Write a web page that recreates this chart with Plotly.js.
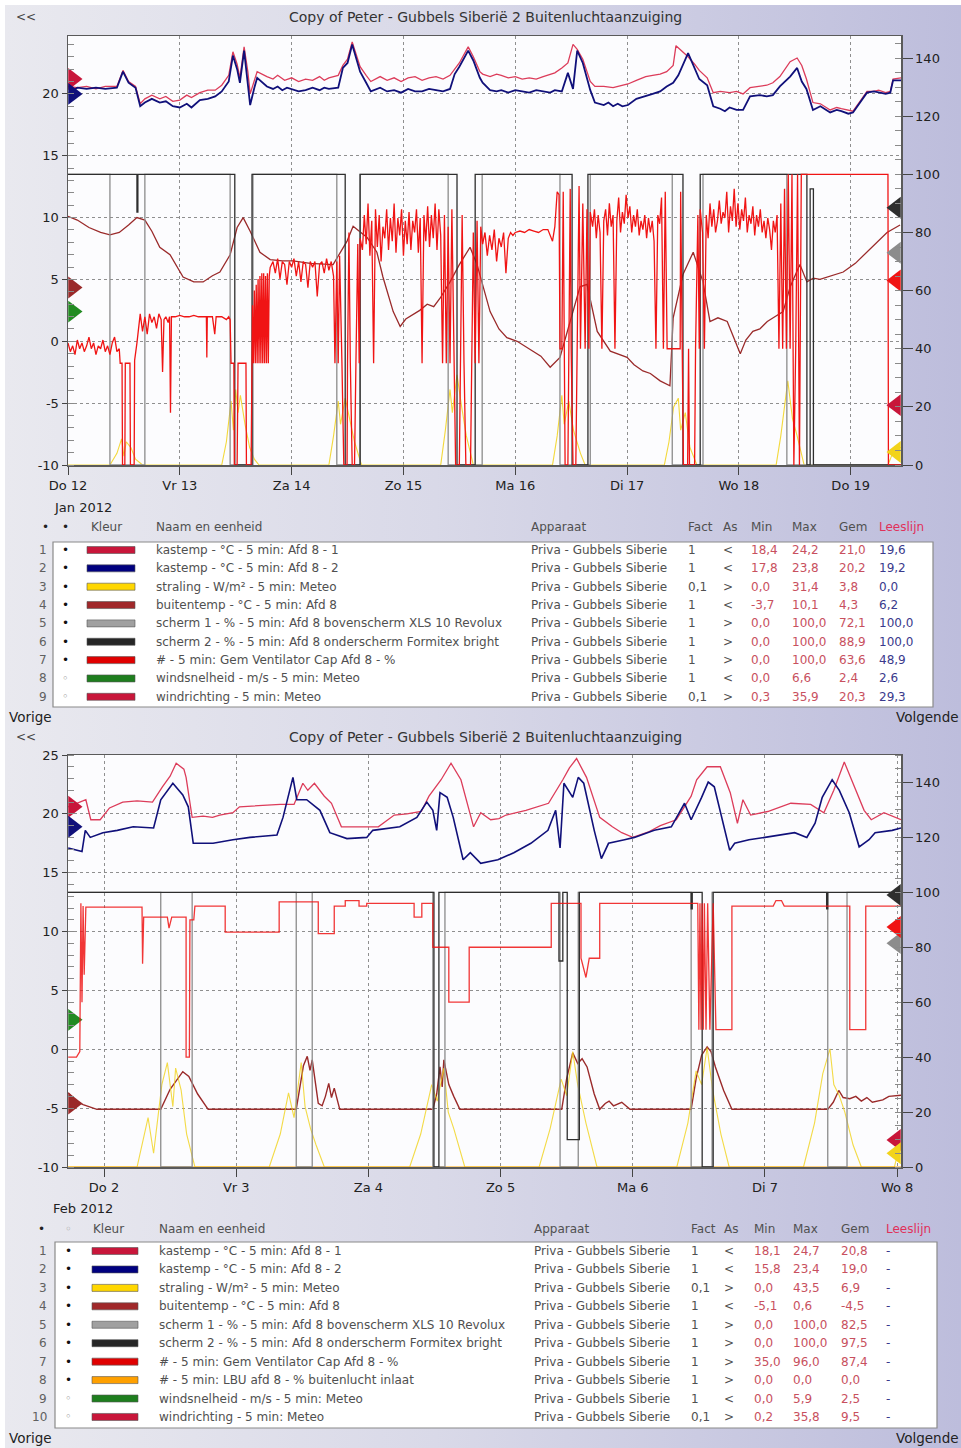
<!DOCTYPE html>
<html><head><meta charset="utf-8">
<script src="https://cdn.plot.ly/plotly-3.0.1.min.js"></script>
<style>
html,body{margin:0;padding:0;background:#fff;}
#bg{position:absolute;left:5px;top:5px;width:956px;height:1443px;background:linear-gradient(to right,#e9e9ef 0%,#d9d9e8 45%,#bdbddc 100%);}
#chart{position:absolute;left:0;top:0;width:961px;height:1448px;}
</style></head><body><div id="bg"></div><div id="chart"></div>
<script>
// ---------------- DATA ----------------
const TITLE = 'Copy of Peter - Gubbels Siberië 2 Buitenluchtaanzuiging';
const janDayLabels = ['Do 12','Vr 13','Za 14','Zo 15','Ma 16','Di 17','Wo 18','Do 19'];
const febDayLabels = ['Do 2','Vr 3','Za 4','Zo 5','Ma 6','Di 7','Wo 8'];
const janMonth = 'Jan 2012';
const febMonth = 'Feb 2012';
const leftTickVals = [-10,-5,0,5,10,15,20,25];
const leftTickText = ['-10','-5','0','5','10','15','20','25'];

// Panel 1 (hours since Do 12 00:00)
const jan_kastemp1 = [[0,20.6],[2,20.5],[4,20.6],[6,20.4],[8,20.6],[10.5,20.6],[11.8,21.9],[13,21.0],[14.5,20.6],[15.5,19.2],[16.5,19.6],[18,19.9],[19.7,19.6],[21,19.8],[22.5,19.4],[24,19.5],[25.5,19.9],[26.5,19.7],[28.3,20.1],[30,20.3],[31.6,20.3],[33,20.7],[34.5,21.5],[35.4,23.4],[36.3,22.4],[36.9,21.3],[37.8,23.8],[38.6,21.8],[39.1,20.0],[40.0,21.0],[40.6,21.8],[42.7,21.4],[44,21.2],[45,21.5],[46.5,21.1],[48,21.3],[49.5,21.0],[51,21.2],[52.5,21.1],[54,21.4],[55,21.1],[56,21.3],[58,21.5],[59,22.3],[60,22.8],[61,24.2],[62,23.0],[62.7,22.2],[64,21.5],[65,21.0],[67,21.4],[68.5,21.1],[70,21.3],[71.5,21.0],[73,21.3],[74.5,21.4],[76,21.1],[77.5,21.3],[79,21.4],[80.5,21.2],[82,21.5],[83,22.0],[84,22.5],[85.9,23.8],[87,23.0],[88.4,21.8],[89,21.6],[90.6,21.4],[92,21.6],[93,21.5],[94.5,21.3],[96,21.4],[97.5,21.2],[99,21.3],[100.5,21.2],[102,21.4],[103.5,21.6],[104.5,21.7],[106.0,22.1],[107.3,22.5],[108.4,24.0],[109.3,23.6],[110.5,22.8],[112.1,21.0],[113.1,20.6],[115,20.6],[117,20.5],[119,20.7],[120.2,20.8],[122,21.1],[124,21.4],[125.5,21.5],[127.1,21.6],[128.5,21.8],[129.9,22.3],[130.5,23.9],[131.4,23.6],[133.1,23.0],[134.5,22.4],[135.5,21.9],[137.2,21.3],[138.5,20.1],[140,20.2],[142,20.1],[143.5,20.2],[144.9,20.0],[146.4,20.5],[148.5,20.6],[150,20.7],[151.3,20.9],[152.8,21.4],[155,22.6],[156.5,22.9],[157.5,22.3],[158.5,21.2],[159.9,19.3],[161.5,19.2],[163.6,18.7],[165,18.9],[166,18.8],[167.5,18.7],[168.5,18.6],[170,19.4],[171.5,20.2],[173,20.2],[174,20.3],[175.5,20.1],[176.5,20.2],[177.1,21.2],[178.8,21.3]];
const jan_kastemp2 = [[0,20.0],[2,20.5],[4,20.4],[6,20.5],[8,20.4],[10.5,20.5],[11.8,21.8],[13,20.9],[14.5,20.5],[15.5,19.0],[16.5,19.3],[18,19.6],[19.7,19.3],[21,19.4],[22.5,19.0],[24,18.9],[25.5,19.2],[26.5,18.9],[28.3,19.5],[30,19.6],[31.6,19.8],[33,20.2],[34.5,21.0],[35.4,23.1],[36.3,22.0],[36.9,20.9],[37.8,23.5],[38.6,21.0],[39.1,19.1],[40.0,20.5],[40.6,21.3],[42.7,20.6],[44,20.4],[45,20.6],[46,20.3],[47,20.5],[48,20.4],[49.5,20.2],[51,20.3],[52.5,20.5],[54,20.3],[55,20.5],[56,20.4],[58,20.5],[59,22.1],[60,22.5],[61,24.0],[62,22.8],[62.7,21.8],[64,20.9],[65,20.2],[67,20.5],[68.5,20.2],[70,20.3],[71.5,20.1],[73,20.4],[74.5,20.2],[76,20.2],[77.5,20.4],[79,20.3],[80.5,20.2],[82,20.4],[83,21.6],[84,22.2],[85.9,23.5],[87,22.7],[88.4,21.3],[89,20.9],[90.6,20.3],[92,20.2],[93,20.3],[94.5,20.1],[96,20.3],[97.5,20.2],[99,20.1],[100.5,20.3],[102,20.2],[103.5,20.1],[104.5,20.3],[106.0,20.2],[107.3,21.7],[108.4,20.4],[109.3,23.5],[110.5,22.5],[112.1,20.3],[113.1,19.3],[115,19.1],[116,19.3],[117,19.0],[118,19.2],[119,19.0],[120.2,19.1],[122,19.6],[124,19.8],[125.5,20.0],[127.1,20.2],[128.5,20.6],[129.9,20.9],[131,21.5],[133.1,23.3],[134.5,22.0],[135.5,21.2],[137.2,20.7],[138.5,19.0],[140,18.8],[141,18.6],[142,18.9],[143.5,18.7],[144.9,18.7],[146.4,19.8],[148.5,19.9],[150,19.8],[151.3,19.9],[152.8,20.6],[155,21.4],[156.5,22.1],[157.5,21.0],[158.5,20.4],[159.9,18.7],[161.5,19.0],[163.6,18.5],[165,18.7],[166,18.6],[167.5,18.4],[168.5,18.5],[170,19.3],[171.5,20.1],[173,20.2],[174,20.1],[175.5,20.0],[176.5,20.1],[177.1,21.1],[178.8,21.1]];
const jan_buitentemp = [[0,10.1],[2,9.8],[4.5,9.2],[7,8.8],[9,8.6],[11,8.8],[13,9.4],[14.8,10.0],[16.5,9.8],[18,8.9],[19.7,7.6],[21.9,7.0],[24.7,5.2],[27,4.8],[29,4.8],[31,5.3],[32.6,5.6],[34.8,7.0],[36.3,9.2],[37.6,10.0],[39.1,8.9],[41.2,7.2],[43.4,6.6],[46,6.5],[48.3,6.5],[52,6.3],[56.9,6.2],[59.9,8.1],[61.2,9.3],[64.2,8.4],[66.3,7.2],[67.6,5.2],[69.8,2.4],[71.3,1.2],[72.5,1.8],[74.1,2.2],[75.5,2.5],[77.1,3.0],[78.5,2.8],[79.9,3.5],[82,4.8],[84,6.2],[86.3,7.6],[87.8,6.2],[90.6,2.4],[92.5,1.0],[94.2,0.3],[96.4,0.0],[98,-0.4],[99.8,-0.8],[101.5,-1.2],[103.5,-2.1],[105.6,-1.3],[107.8,1.6],[109.9,4.4],[111.4,4.6],[113.6,0.8],[116.4,-0.8],[118,-1.0],[120,-1.3],[121.5,-1.9],[123.4,-2.4],[125,-2.6],[127.1,-3.2],[129.2,-3.6],[129.9,1.9],[132,5.4],[134.2,7.2],[136.3,4.8],[137.8,1.6],[139.5,1.9],[141.5,1.6],[143,0.2],[144.3,-1.0],[145.5,0.1],[147,0.8],[148.5,1.0],[150.1,1.6],[151.8,2.0],[153.5,2.4],[155,4.4],[157.1,6.2],[158.6,4.8],[160,5.1],[161.4,5.0],[164,5.3],[166.4,5.6],[169,6.3],[171.5,7.2],[173.5,8.0],[175.8,8.8],[178.6,9.4]];
const jan_straling = [[0,0],[9,0],[10.5,4],[11.5,9],[12,3],[12.5,8],[13.5,6],[14.5,2],[16,0],[33,0],[34,8],[35,22],[35.5,12],[36,26],[36.5,18],[37,24],[38,14],[39,6],[40,2],[41,0],[56,0],[57,10],[58,22],[58.5,14],[59.5,23],[60.5,16],[61.5,8],[63,0],[80,0],[81,12],[82,26],[82.5,18],[83.5,31],[84.5,20],[85.5,10],[87,0],[104,0],[105,10],[106,24],[106.5,14],[107.5,22],[108.5,12],[110,4],[111,0],[128,0],[129,8],[130,20],[131,23],[131.5,12],[132.5,18],[133.5,6],[135,0],[152,0],[153,10],[154,24],[154.5,29],[155.5,16],[156.5,10],[158,0],[176,0],[177,4],[178,6],[178.8,6]];
const jan_scherm1 = [[0,100],[9.0,100],[9.0,0],[16.5,0],[16.5,100],[34.8,100],[34.8,0],[39.7,0],[39.7,100],[57.7,100],[57.7,0],[62.7,0],[62.7,100],[81.6,100],[81.6,0],[88.9,0],[88.9,100],[105.6,100],[105.6,0],[112.1,0],[112.1,100],[129.7,100],[129.7,0],[136.3,0],[136.3,100],[154.3,100],[154.3,0],[178.8,0]];
const jan_scherm2 = [[0,100],[14.8,100],[14.8,87],[15.0,87],[15.0,100],[35.8,100],[35.8,0],[39.5,0],[39.5,100],[59.5,100],[59.5,0],[62.7,0],[62.7,100],[83.5,100],[83.5,0],[87.4,0],[87.4,100],[108.2,100],[108.2,0],[111.6,0],[111.6,100],[132.0,100],[132.0,0],[135.7,0],[135.7,100],[158.6,100],[158.6,0],[159.3,0],[159.3,95],[160,95],[160,0],[178.8,0]];
const jan_ventilator = [[0,42],[0.5,39],[1,41],[1.5,38],[2,43],[2.5,40],[3,42],[3.5,39],[4,41],[4.5,44],[5,40],[5.5,42],[6,38],[6.5,41],[7,40],[7.5,43],[8,39],[8.5,41],[9,38],[9.5,42],[10,44],[10.5,39],[11,40],[11.2,35],[11.6,35],[11.7,0],[12.2,0],[12.3,35],[13.3,35],[13.4,0],[14.2,0],[14.3,36],[14.8,42],[15.2,48],[15.5,52],[16,46],[16.5,51],[17,45],[17.5,52],[18,49],[18.5,51],[19,47],[19.5,52],[20,50],[20.3,32],[20.6,50],[21,51],[21.5,49],[21.8,51],[22,18],[22.2,51],[23,51],[24,51.5],[25,51],[26,51],[27,51.5],[28,51],[29,51],[29.7,51],[29.8,37],[29.9,51],[31,51],[31.5,45],[31.8,51],[33,51],[34,50],[34.5,51],[34.8,50],[35.0,35],[35.6,35],[35.7,0],[36.3,0],[36.5,35],[38.2,35],[38.3,0],[39.3,0],[39.4,35],[39.6,55],[39.8,35],[40.0,60],[40.2,35],[40.4,62],[40.6,35],[40.8,64],[41.0,35],[41.2,65],[41.4,35],[41.6,66],[41.8,35],[42.0,66],[42.2,35],[42.4,65],[42.6,35],[42.8,66],[43.0,35],[43.2,65],[43.4,68],[44,70],[44.5,66],[45,71],[45.5,64],[46,70],[46.5,69],[47,62],[47.5,70],[48,68],[48.5,71],[49,65],[49.5,70],[50,63],[50.5,70],[51,69],[51.5,61],[52,70],[52.5,68],[53,70],[53.5,58],[54,69],[54.5,70],[55,66],[55.5,71],[56,67],[56.5,70],[57,65],[57.3,35],[57.7,70],[58,35],[58.3,72],[58.8,35],[59.2,0],[59.9,0],[60,35],[60.3,80],[60.6,35],[61,0],[61.5,0],[61.8,35],[62.2,76],[62.5,35],[62.7,78],[63.2,74],[63.6,86],[64,76],[64.4,90],[64.8,72],[65.2,84],[65.6,35],[66,88],[66.4,75],[66.8,86],[67.2,70],[67.6,82],[68,78],[68.4,88],[68.8,74],[69.2,85],[69.6,77],[70,90],[70.4,73],[70.8,85],[71.2,79],[71.6,88],[72,72],[72.4,84],[72.8,76],[73.2,87],[73.6,74],[74,84],[74.4,80],[74.8,88],[75.2,73],[75.6,85],[76,35],[76.4,86],[76.8,77],[77.2,89],[77.6,75],[78,86],[78.4,78],[78.8,90],[79.2,74],[79.6,88],[80,79],[80.4,35],[80.8,86],[81.2,35],[81.6,82],[82,35],[82.4,88],[82.8,35],[83.2,0],[84,0],[84.2,35],[84.6,86],[85,35],[85.4,0],[86.4,0],[86.6,35],[87,80],[87.4,35],[87.8,84],[88.2,35],[88.6,82],[89,76],[89.5,80],[90,72],[90.5,79],[91,74],[91.5,81],[92,70],[92.5,78],[93,75],[93.5,80],[94,66],[94.5,78],[95,80],[95.5,79],[96,80],[97,80.5],[98,80],[99,81],[100,80.5],[101,80],[102,81],[103,81],[104,77],[104.5,82],[105,94],[105.4,93],[105.6,40],[106,40],[106.3,94],[106.5,40],[106.7,0],[107.3,0],[107.5,40],[107.8,95],[108,40],[108.4,0],[109,0],[109.3,40],[109.7,96],[110,40],[110.5,90],[111,40],[111.4,88],[111.8,40],[112.1,87],[112.6,82],[113,88],[113.4,78],[113.8,86],[114.2,80],[114.6,40],[115,84],[115.4,88],[115.8,79],[116.2,90],[116.6,82],[117,86],[117.4,40],[117.8,84],[118.2,92],[118.6,80],[119,87],[119.4,83],[119.8,93],[120.2,85],[120.6,89],[121,80],[121.4,86],[121.8,82],[122.2,88],[122.6,79],[123,84],[123.4,81],[123.8,86],[124.2,78],[124.6,85],[125,80],[125.4,84],[125.8,77],[126.2,40],[126.6,86],[127,83],[127.4,92],[127.8,40],[128.2,94],[128.6,40],[131.4,40],[131.5,94],[131.8,40],[132.1,0],[133,0],[133.2,40],[133.4,0],[134.5,0],[134.7,40],[135.2,86],[135.5,40],[135.7,88],[136.2,80],[136.6,40],[137,86],[137.4,78],[137.8,90],[138.2,82],[138.6,88],[139,80],[139.4,84],[139.8,91],[140.2,83],[140.6,87],[141,85],[141.4,94],[141.8,80],[142.2,89],[142.6,84],[143,95],[143.4,82],[143.8,90],[144.2,81],[144.6,88],[145,84],[145.4,92],[145.8,80],[146.2,86],[146.6,83],[147,89],[147.4,79],[147.8,86],[148.2,82],[148.6,88],[149,80],[149.4,84],[149.8,78],[150.2,85],[150.6,81],[151,74],[151.4,84],[151.8,80],[152.2,86],[152.6,40],[153,90],[153.4,40],[153.8,95],[154.2,40],[154.6,100],[155,40],[155.4,100],[155.8,0],[156.2,40],[156.6,100],[157,0],[157.4,100],[158,100],[165,100],[176,100],[176.1,0],[178.8,0]];
// values at which the reading markers sit on the axes
const jan_leftMarks  = [21.2, 20.0, 4.35, 2.4];        // kastemp1, kastemp2, buitentemp, windsnelheid
const jan_rightMarks = [88.5, 73, 63.5, 20.6, 4.5];     // scherm2, scherm1, ventilator, windrichting, straling

// Panel 2 (hours since Do 2 00:00)
const feb_kastemp1 = [[-6.5,20.6],[-5,20.9],[-3.3,21.2],[-2.4,19.5],[-0.7,19.5],[1,20.5],[3.4,21.0],[6,21.1],[8.8,21.0],[10.6,22.3],[12,23.2],[13.1,24.3],[14.5,23.8],[14.9,23.1],[16,19.7],[18,19.8],[19.7,19.7],[21,19.9],[23.4,20.1],[24.6,20.6],[28,20.7],[32,20.8],[34.5,20.8],[36.1,22.6],[37,22.0],[38.2,22.6],[40,21.5],[41.3,20.9],[43.1,18.9],[46,18.9],[49.8,18.9],[52.7,19.9],[55,20.0],[57.6,20.2],[59,21.5],[61.2,22.9],[63,24.3],[64.8,22.9],[67.1,18.9],[68.4,20.1],[70.2,19.5],[71.7,19.6],[73,19.9],[76.6,20.3],[80.7,20.9],[83.3,22.9],[84.5,23.9],[85.8,24.7],[87.6,23.1],[90,19.7],[92.3,18.9],[94,18.4],[96,18.0],[99,18.5],[101,19.0],[103.9,19.5],[106.6,21.5],[107.6,22.9],[109.5,24.0],[111.9,24.0],[113.7,21.8],[115,19.2],[116,21.2],[117.4,19.9],[120.5,20.2],[124.7,20.9],[128.3,20.8],[130.7,20.1],[132.5,22.0],[134.4,24.4],[136.2,22.3],[138,20.3],[139.3,19.5],[141.6,20.1],[144.7,19.5]];
const feb_kastemp2 = [[-6.5,17.1],[-4.9,16.9],[-4.0,16.8],[-3.4,18.6],[-2.5,18.0],[-0.2,18.4],[2.4,18.6],[5.3,18.9],[9,18.8],[10.3,21.2],[12.5,22.6],[14.3,21.6],[15.3,20.6],[16.2,17.5],[19.8,17.5],[23.4,17.8],[26.5,18.0],[31.4,18.2],[32.5,19.7],[34.3,23.1],[35.0,21.2],[36.8,21.2],[39.2,20.3],[41,18.4],[44.1,17.9],[47.7,18.0],[48.8,18.6],[53.7,18.9],[56.8,19.7],[58.6,21.0],[59.7,20.3],[60.4,18.6],[61,21.8],[62.3,21.4],[63.4,19.7],[65.2,16.1],[66.5,16.7],[68.4,15.8],[71.5,16.1],[74.4,16.7],[77.5,17.5],[80.6,18.6],[82,20.3],[82.8,17.1],[83.5,22.6],[85.1,21.4],[86.1,23.1],[87.1,22.6],[89,18.6],[90.3,16.2],[91.6,17.5],[94.5,17.8],[96.3,18.0],[99.9,18.6],[103,18.9],[105.4,20.9],[106.6,19.5],[108.5,21.4],[109.7,22.7],[110.8,22.3],[112.1,19.7],[113.6,16.9],[114.5,17.5],[117.1,17.8],[120,18.0],[123.1,18.2],[125.4,18.4],[127.6,18.0],[129.1,19.2],[130.4,21.4],[132.2,22.9],[133.5,22.0],[135.3,20.1],[137.1,17.2],[138.9,17.8],[140,18.4],[143.1,18.6],[144.7,18.8]];
const feb_buitentemp = [[-6.5,-3.7],[-5,-4.4],[-3.8,-4.7],[-1.3,-5.1],[10.3,-5.1],[12,-3.4],[14.3,-1.9],[15.4,-2.3],[17,-3.8],[18.9,-5.1],[34.9,-5.1],[35.5,-3.2],[36.2,-1.4],[36.9,-0.6],[37.4,-1.8],[37.8,-0.9],[38.4,-3.0],[38.9,-4.6],[39.6,-4.8],[40.2,-4.0],[40.8,-2.9],[41.3,-4.1],[41.8,-3.3],[42.8,-5.1],[59.7,-5.1],[60.4,-3.8],[61.0,-1.5],[61.4,-3.2],[61.7,-0.9],[62.6,-3.0],[63.5,-4.0],[64.6,-5.1],[83.1,-5.1],[84,-2.5],[85.1,-0.3],[86,-1.2],[86.8,-0.8],[87.7,-1.5],[89,-3.8],[90.0,-5.1],[91.0,-4.6],[91.7,-4.4],[92.5,-4.8],[94,-4.5],[95.5,-5.1],[106.6,-5.1],[107.5,-2.5],[108.5,-0.5],[109.5,0.2],[110.2,-0.2],[111,-1.5],[112.5,-3.5],[114.0,-5.1],[131.4,-5.1],[132.4,-4.5],[133.4,-3.5],[134.2,-4.1],[135.4,-4.2],[136.5,-4.0],[137.5,-4.4],[138.5,-4.1],[139.5,-4.5],[141.4,-4.3],[142.5,-4.0],[144.7,-3.9]];
const feb_straling = [[-6.5,0],[6,0],[8,18],[9,5],[10.5,30],[11.5,38],[12.5,22],[13,36],[14,28],[15,12],[16.5,0],[30,0],[32,12],[33.5,27],[34.5,18],[35.8,38],[36.5,22],[37.5,14],[38.5,8],[40,0],[55.5,0],[57.5,12],[59.5,30],[60.5,24],[61.7,36],[62.5,20],[63.5,14],[65.5,0],[79,0],[81,14],[83,32],[84,26],[85.1,42],[86,30],[87.5,16],[89.5,0],[104,0],[106,16],[107.5,35],[108.5,30],[109.5,43.5],[110.5,28],[112,12],[113.5,0],[127,0],[129,16],[130.5,34],[131.8,43],[132.5,30],[133.5,26],[134.5,20],[136,8],[137.5,0],[143.5,0],[144,4],[144.7,8]];
const feb_scherm1 = [[-6.54,100],[10.3,100],[10.3,0],[16.0,0],[16.0,100],[34.9,100],[34.9,0],[37.8,0],[37.8,100],[59.7,100],[59.7,0],[61.9,0],[61.9,100],[82.8,100],[82.8,0],[86.1,0],[86.1,100],[106.6,100],[106.6,0],[110.4,0],[110.4,100],[131.4,100],[131.4,0],[134.9,0],[134.9,100],[144.7,100]];
const feb_scherm2 = [[-6.54,100],[59.9,100],[59.9,0],[60.8,0],[60.8,100],[82.6,100],[82.6,75],[83.3,75],[83.3,100],[84.1,100],[84.1,10],[86.3,10],[86.3,100],[106.6,100],[106.6,94],[106.8,94],[106.8,100],[108.6,100],[108.6,0],[110.6,0],[110.6,100],[131.2,100],[131.2,94],[131.4,94],[131.4,100],[144.7,100]];
const feb_ventilator = [[-6.5,40],[-5,40],[-4.4,42],[-4.2,96],[-4.0,60],[-3.8,95],[-3.6,70],[-3.3,94.6],[6.9,94.6],[6.9,91],[7.0,74],[7.2,91],[11.5,91],[11.8,87],[12.3,91],[14.9,91],[14.9,40],[15.5,40],[15.6,90],[16.3,90],[16.5,95],[22.0,95],[22.0,85.5],[31.8,85.5],[31.8,96.5],[38.9,96.5],[38.9,85],[41.8,85],[41.8,95],[43.8,95],[43.8,97],[46.3,97],[46.3,95],[47.7,95],[47.7,96],[56.3,96],[56.3,91],[57.7,91],[57.7,96],[59.7,96],[59.7,80],[62.6,80],[62.6,60],[66.3,60],[66.3,80],[81.2,80],[81.2,96],[86.6,96],[86.6,76],[87.5,69],[88.1,76],[90.0,76],[90.0,96],[107.8,96],[108.0,50],[108.2,96],[108.4,50],[108.6,96],[108.8,50],[109.0,96],[109.3,50],[109.6,96],[110.0,50],[110.6,96],[111.1,50],[114.0,50],[114.0,95],[121.5,95],[122,97],[123,97],[123.5,95],[135.4,95],[135.4,50],[138.3,50],[138.3,95],[144.7,95]];
const feb_lbu = [[-6.54,0],[144.7,0]];
const feb_leftMarks  = [20.6, 18.9, -4.6, 2.5];        // kastemp1, kastemp2, buitentemp, windsnelheid
const feb_rightMarks = [99, 81.5, 87.4, 9.8, 5];        // scherm2, scherm1, ventilator, windrichting, straling

// Tables
const jan_names = ['kastemp - °C - 5 min: Afd 8 - 1','kastemp - °C - 5 min: Afd 8 - 2','straling - W/m² - 5 min: Meteo','buitentemp - °C - 5 min: Afd 8','scherm 1 - % - 5 min: Afd 8 bovenscherm XLS 10 Revolux','scherm 2 - % - 5 min: Afd 8 onderscherm Formitex bright','# - 5 min: Gem Ventilator Cap Afd 8 - %','windsnelheid - m/s - 5 min: Meteo','windrichting - 5 min: Meteo'];
const jan_app = 'Priva - Gubbels Siberie';
const jan_fact = ['1','1','0,1','1','1','1','1','1','0,1'];
const jan_as = ['<','<','>','<','>','>','>','<','>'];
const jan_min = ['18,4','17,8','0,0','-3,7','0,0','0,0','0,0','0,0','0,3'];
const jan_max = ['24,2','23,8','31,4','10,1','100,0','100,0','100,0','6,6','35,9'];
const jan_gem = ['21,0','20,2','3,8','4,3','72,1','88,9','63,6','2,4','20,3'];
const jan_lees = ['19,6','19,2','0,0','6,2','100,0','100,0','48,9','2,6','29,3'];
const jan_shown = [1,1,1,1,1,1,1,0,0];

const feb_names = ['kastemp - °C - 5 min: Afd 8 - 1','kastemp - °C - 5 min: Afd 8 - 2','straling - W/m² - 5 min: Meteo','buitentemp - °C - 5 min: Afd 8','scherm 1 - % - 5 min: Afd 8 bovenscherm XLS 10 Revolux','scherm 2 - % - 5 min: Afd 8 onderscherm Formitex bright','# - 5 min: Gem Ventilator Cap Afd 8 - %','# - 5 min: LBU afd 8 - % buitenlucht inlaat','windsnelheid - m/s - 5 min: Meteo','windrichting - 5 min: Meteo'];
const feb_app = 'Priva - Gubbels Siberie';
const feb_fact = ['1','1','0,1','1','1','1','1','1','1','0,1'];
const feb_as = ['<','<','>','<','>','>','>','>','<','>'];
const feb_min = ['18,1','15,8','0,0','-5,1','0,0','0,0','35,0','0,0','0,0','0,2'];
const feb_max = ['24,7','23,4','43,5','0,6','100,0','100,0','96,0','0,0','5,9','35,8'];
const feb_gem = ['20,8','19,0','6,9','-4,5','82,5','97,5','87,4','0,0','2,5','9,5'];
const feb_lees = ['-','-','-','-','-','-','-','-','-','-'];
const feb_shown = [1,1,1,1,1,1,1,1,0,0];

const headers = ['Kleur','Naam en eenheid','Apparaat','Fact','As','Min','Max','Gem','Leeslijn'];

// ---------------- STYLE ----------------
const C = {kas1:'#dc3c5a', kas2:'#10107a', stra:'#f2d31a', buit:'#9a2a2a', sch1:'#8c8c8c', sch2:'#2e2e2e', vent:'#f01414', wind:'#228b22', wdir:'#c8163a', lbu:'#ffa500'};
const janSw = ['#c8163a','#00007f','#ffd700','#a0282a','#a0a0a0','#262626','#e00000','#1e7e1e','#c8163a'];
const febSw = ['#c8163a','#00007f','#ffd700','#a0282a','#a0a0a0','#262626','#e00000','#ffa000','#1e7e1e','#c8163a'];
const W = 961, H = 1448;
const px2x = p => p / W, py2y = p => 1 - p / H;
const esc = s => s.replace(/&/g,'&amp;').replace(/</g,'&lt;').replace(/>/g,'&gt;');

const traces = [];
function addLine(pairs, xa, ya, color, width, op) {
  traces.push({type:'scatter', mode:'lines', x:pairs.map(p=>p[0]), y:pairs.map(p=>p[1]),
    xaxis:xa, yaxis:ya, line:{color:color, width:width}, opacity:op||1, hoverinfo:'skip', showlegend:false});
}
function addMarks(vals, colors, xpos, xa, ya, sym) {
  traces.push({type:'scatter', mode:'markers', x:vals.map(()=>xpos), y:vals, xaxis:xa, yaxis:ya,
    marker:{symbol:sym, size:19, color:colors, line:{width:0}}, cliponaxis:false, hoverinfo:'skip', showlegend:false});
}

// Panel 1
addLine(jan_buitentemp,'x','y',C.buit,1.3);
addLine(jan_kastemp1,'x','y',C.kas1,1.3);
addLine(jan_kastemp2,'x','y',C.kas2,1.8);
addMarks(jan_leftMarks,[C.wdir,C.kas2,C.buit,C.wind],178.8*5/833,'x','y','triangle-right');
addLine(jan_straling,'x','y2',C.stra,1.1,0.85);
addLine(jan_scherm1,'x','y2',C.sch1,1.3);
addLine(jan_scherm2,'x','y2',C.sch2,1.3);
addLine(jan_ventilator,'x','y2',C.vent,1.3);
addMarks(jan_rightMarks,[C.sch2,C.sch1,C.vent,C.wdir,C.stra],178.8-178.8*5/833,'x','y2','triangle-left');

// Panel 2
addLine(feb_buitentemp,'x2','y3',C.buit,1.4);
addLine(feb_kastemp1,'x2','y3',C.kas1,1.3);
addLine(feb_kastemp2,'x2','y3',C.kas2,1.6);
addMarks(feb_leftMarks,[C.wdir,C.kas2,C.buit,C.wind],-6.54+151.24*5/833,'x2','y3','triangle-right');
addLine(feb_straling,'x2','y4',C.stra,1.1,0.8);
addLine(feb_lbu,'x2','y4',C.lbu,1);
addLine(feb_scherm1,'x2','y4',C.sch1,1.3);
addLine(feb_scherm2,'x2','y4',C.sch2,1.3);
addLine(feb_ventilator,'x2','y4',C.vent,1.3,0.85);
addMarks(feb_rightMarks,[C.sch2,C.sch1,C.vent,C.wdir,C.stra],144.7-151.24*5/833,'x2','y4','triangle-left');

// ---------------- LAYOUT ----------------
const tickFont = {family:'DejaVu Sans, sans-serif', size:13, color:'#222'};
const gridStyle = {showgrid:true, gridcolor:'#8f8f8f', gridwidth:1, griddash:'3px,3px'};
function xAx(domain, range, anchor, labels) {
  return Object.assign({domain:domain, range:range, anchor:anchor, tickvals:labels.map((_,i)=>i*24), ticktext:labels,
    ticks:'outside', ticklen:8, tickcolor:'#444', tickfont:tickFont, showline:true, linecolor:'#5a5a5a', linewidth:1.5, mirror:true, zeroline:false}, gridStyle);
}
function yLeft(domain, range, anchor) {
  return Object.assign({domain:domain, range:range, anchor:anchor, tickvals:leftTickVals, ticktext:leftTickText, ticks:'outside', ticklen:5, tickcolor:'#444',
    tickfont:tickFont, minor:{dtick:1, tick0:0, ticks:'inside', ticklen:6, tickcolor:'#8a8a8a', showgrid:false},
    showline:true, linecolor:'#5a5a5a', linewidth:1.5, zeroline:false}, gridStyle);
}
function yRight(over, range, anchor) {
  return {overlaying:over, side:'right', anchor:anchor, range:range, tick0:0, dtick:20, ticks:'outside', ticklen:10, tickcolor:'#444',
    tickfont:tickFont, minor:{dtick:5, tick0:0, ticks:'inside', ticklen:6, tickcolor:'#8a8a8a', showgrid:false},
    showgrid:false, showline:true, linecolor:'#5a5a5a', linewidth:1.5, zeroline:false};
}

const XD = [px2x(68), px2x(901)];
const layout = {
  width:W, height:H, margin:{l:0,r:0,t:0,b:0}, paper_bgcolor:'rgba(0,0,0,0)', plot_bgcolor:'#fcfcfe', showlegend:false,
  xaxis: xAx(XD,[0,178.8],'y',janDayLabels),
  yaxis: yLeft([py2y(465),py2y(36)],[-10,24.68],'x'),
  yaxis2: yRight('y',[0,147.6],'x'),
  xaxis2: xAx(XD,[-6.54,144.7],'y3',febDayLabels),
  yaxis3: yLeft([py2y(1167),py2y(755)],[-10,25],'x2'),
  yaxis4: yRight('y3',[0,150],'x2'),
  annotations:[], shapes:[]
};
const ann = layout.annotations, shp = layout.shapes;
const tblFont = 'DejaVu Sans, sans-serif';
function txt(x, y, text, o) {
  o = o || {};
  ann.push({xref:'paper', yref:'paper', x:px2x(x), y:py2y(y), text:text, showarrow:false,
    xanchor:o.anchor||'left', yanchor:'middle', font:{family:o.family||tblFont, size:o.size||12, color:o.color||'#505050'}});
}
function rect(x0,y0,x1,y1,fill,line,lw) {
  shp.push({type:'rect', xref:'paper', yref:'paper', x0:px2x(x0), x1:px2x(x1), y0:py2y(y1), y1:py2y(y0), fillcolor:fill, line:{color:line, width:lw||1}, layer:'above'});
}

const uiFont = 'DejaVu Sans, sans-serif';
// headers / navigation
[[17,717,janMonth,507],[737,1438,febMonth,1208]].forEach(([ty,ny,month,my])=>{
  txt(485,ty,TITLE,{anchor:'center',family:uiFont,size:14,color:'#333'});
  txt(14,ty,'&lt;&lt;',{family:uiFont,size:12,color:'#444'});
  txt(7,ny,'Vorige',{family:uiFont,size:13.5,color:'#222'});
  txt(961,ny,'Volgende',{anchor:'right',family:uiFont,size:13.5,color:'#222'});
  txt(83,my,month,{anchor:'center',family:uiFont,size:13,color:'#222'});
});

function table(cfg) {
  const n = cfg.names.length;
  rect(cfg.box[0],cfg.box[1],cfg.box[2],cfg.box[3],'#ffffff','#8a8a8a',1.2);
  const c = cfg.cols, hy = cfg.hy;
  txt(c.b1,hy,'•',{anchor:'center',color:'#222',size:12});
  txt(c.b2,hy,cfg.hdrDot2,{anchor:'center',color:cfg.hdrDot2c,size:12});
  txt(c.kleur,hy,headers[0],{anchor:'center'});
  [['name',1],['app',2],['fact',3],['as',4],['min',5],['max',6],['gem',7]].forEach(([k,i])=>txt(c[k],hy,headers[i]));
  txt(c.lees,hy,headers[8],{color:'#e0305a'});
  for (let i=0;i<n;i++) {
    const y = cfg.y0 + i*cfg.step;
    txt(c.num,y,String(i+1),{anchor:'right',color:'#606060'});
    txt(c.b2,y,cfg.shown[i]?'•':'◦',{anchor:'center',color:cfg.shown[i]?'#111':'#888',size:cfg.shown[i]?12:11});
    rect(c.sw0,y-3.5,c.sw1,y+3.5,cfg.sw[i],'#555',0.6);
    txt(c.name,y,esc(cfg.names[i]));
    txt(c.app,y,cfg.app);
    txt(c.fact,y,cfg.fact[i]);
    txt(c.as,y,esc(cfg.as[i]));
    txt(c.min,y,cfg.min[i],{color:'#c8505e'});
    txt(c.max,y,cfg.max[i],{color:'#c8505e'});
    txt(c.gem,y,cfg.gem[i],{color:'#c8505e'});
    txt(c.lees,y,cfg.lees[i],{color:'#3a3a8c'});
  }
}
table({names:jan_names, app:jan_app, fact:jan_fact, as:jan_as, min:jan_min, max:jan_max, gem:jan_gem, lees:jan_lees, shown:jan_shown, sw:janSw,
  box:[53,542,933,707], hy:527, y0:550, step:18.35, hdrDot2:'•', hdrDot2c:'#222',
  cols:{num:49,b1:45,b2:65,kleur:106,sw0:87,sw1:135,name:154,app:529,fact:686,as:721,min:749,max:790,gem:837,lees:877}});
table({names:feb_names, app:feb_app, fact:feb_fact, as:feb_as, min:feb_min, max:feb_max, gem:feb_gem, lees:feb_lees, shown:feb_shown, sw:febSw,
  box:[55,1242,937,1428], hy:1229, y0:1251, step:18.44, hdrDot2:'◦', hdrDot2c:'#aaa',
  cols:{num:49,b1:41,b2:68,kleur:108,sw0:92,sw1:138,name:157,app:532,fact:689,as:722,min:752,max:791,gem:839,lees:884}});

Plotly.newPlot('chart', traces, layout, {displayModeBar:false, staticPlot:true});
</script></body></html>
